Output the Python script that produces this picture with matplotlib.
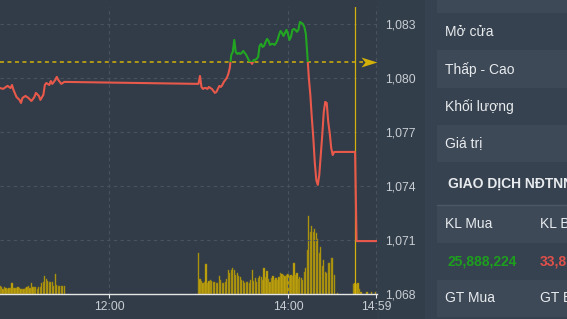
import matplotlib
matplotlib.use("Agg")
import matplotlib.pyplot as plt
import matplotlib.transforms as mtransforms
from matplotlib.patches import Rectangle
from matplotlib.path import Path
import numpy as np

FONT = ["Liberation Sans", "DejaVu Sans"]
plt.rcParams["font.family"] = FONT

# ---------------- data ----------------
price_times = [
    "10:47", "10:49", "10:52", "10:54", "10:55", "10:56", "10:58", "11:00", "11:01", "11:02",
    "11:04", "11:06", "11:08", "11:10", "11:11", "11:13", "11:14", "11:16", "11:17", "11:18",
    "11:20", "11:21", "11:22", "11:24", "11:25", "11:26", "11:28", "11:29", "11:30",
    "13:00", "13:01", "13:02", "13:03", "13:04", "13:05", "13:06", "13:07", "13:08", "13:09",
    "13:10", "13:11", "13:12", "13:13", "13:14", "13:15", "13:16", "13:17", "13:18", "13:19",
    "13:20", "13:21", "13:22", "13:23", "13:24", "13:25", "13:26", "13:27", "13:28", "13:29",
    "13:30", "13:31", "13:32", "13:33", "13:34", "13:35", "13:36", "13:37", "13:38", "13:39",
    "13:40", "13:41", "13:42", "13:43", "13:44", "13:45", "13:46", "13:47", "13:48", "13:49",
    "13:50", "13:51", "13:52", "13:53", "13:54", "13:55", "13:56", "13:57", "13:58", "13:59",
    "14:00", "14:01", "14:02", "14:03", "14:04", "14:05", "14:06", "14:07", "14:08", "14:09",
    "14:10", "14:11", "14:12", "14:13", "14:14", "14:15", "14:16", "14:17", "14:18", "14:19",
    "14:20", "14:21", "14:22", "14:23", "14:24", "14:25", "14:26", "14:27", "14:28", "14:29",
    "14:30", "14:31", "14:45", "14:46", "14:59",
]
price_values = [
    1079.44, 1079.39, 1079.56, 1079.44, 1079.61, 1079.33, 1078.94, 1078.78, 1078.61, 1078.89,
    1079.00, 1078.89, 1078.72, 1078.94, 1079.17, 1079.00, 1078.78, 1079.06, 1079.61, 1079.72,
    1079.61, 1079.83, 1079.67, 1079.89, 1080.06, 1079.89, 1079.67, 1079.72, 1079.78,
    1079.67, 1080.11, 1079.50, 1079.39, 1079.44, 1079.44, 1079.39, 1079.50, 1079.44, 1079.39,
    1079.28, 1079.17, 1079.22, 1079.39, 1079.56, 1079.50, 1079.61, 1079.78, 1079.89, 1080.00,
    1080.22, 1080.56, 1081.28, 1081.44, 1082.11, 1081.44, 1081.33, 1081.39, 1081.33, 1081.39,
    1081.50, 1081.39, 1081.28, 1081.11, 1080.94, 1080.89, 1080.78, 1081.00, 1081.00, 1081.06,
    1081.17, 1081.78, 1081.89, 1081.72, 1081.78, 1082.00, 1082.17, 1082.06, 1081.83, 1081.89,
    1081.89, 1081.83, 1081.94, 1082.11, 1082.39, 1082.61, 1082.50, 1082.33, 1082.50, 1082.67,
    1082.44, 1082.11, 1082.28, 1082.67, 1082.72, 1082.67, 1082.56, 1082.67, 1083.11, 1083.06,
    1083.00, 1082.83, 1082.44, 1081.28, 1080.00, 1079.06, 1077.78, 1076.67, 1075.28, 1074.33,
    1074.06, 1074.61, 1075.72, 1076.83, 1078.11, 1078.67, 1078.61, 1077.56, 1076.94, 1076.11,
    1075.72, 1075.89, 1075.89, 1070.94, 1070.94,
]
reference_price = 1080.89

vol_morning_start = "10:47"
vol_morning = [
    80, 67, 47, 67, 57, 47, 57, 57, 107, 57, 57, 57, 67, 57, 47, 47, 47, 60, 67, 80,
    57, 107, 67, 73, 67, 47, 67, 67, 107, 123, 180, 147, 133, 123, 123, 123, 80, 200, 90, 80,
    80, 80, 80, 80,
]
vol_afternoon_start = "13:00"
vol_afternoon = [
    413, 147, 133, 113, 123, 300, 107, 133, 140, 133,
    123, 123, 113, 107, 180, 140, 107, 113, 123, 147,
    240, 213, 240, 260, 240, 190, 213, 180, 167, 140,
    133, 113, 123, 123, 113, 140, 240, 133, 157, 123,
    157, 180, 167, 140, 257, 173, 233, 147, 123, 157,
    180, 140, 157, 140, 167, 213, 200, 190, 180, 190,
    200, 180, 190, 180, 307, 190, 207, 147, 173, 157,
    140, 223, 257, 440, 780, 623, 680, 623, 647, 607,
    547, 407, 473, 280, 340, 223, 213, 307, 313, 357,
    357, 190,
]
vol_late_times = ["14:33", "14:44", "14:45", "14:46", "14:47", "14:48", "14:49", "14:53", "14:56", "14:59"]
vol_late = [13, 100, 110, 100, 110, 50, 20, 20, 20, 20]

y_ticks = [1068, 1071, 1074, 1077, 1080, 1083]
x_tick_labels = ["12:00", "14:00", "14:59"]
atc_time = "14:45"

panel_rows = ["Mở cửa", "Thấp - Cao", "Khối lượng", "Giá trị"]
foreign_title = "GIAO DỊCH NĐTNN"
foreign_head = ["KL Mua", "KL Bán"]
foreign_vals = ["25,888,224", "33,8"]
foreign_head2 = ["GT Mua", "GT Bán"]


def tmin(s):
    h, m = s.split(":")
    return int(h) * 60 + int(m)


# ---------------- colours ----------------
C_CHART = "#313c48"
C_LABCOL = "#333e4b"
C_PANEL = "#36424f"
C_ROW = "#3d4957"
C_GRID = "#48535f"
C_TEXT = "#c9ced4"
C_WHITE = "#e8ebee"
C_RED = "#e8594b"
C_GREEN = "#22a622"
C_YEL = "#d4b10a"

W, H = 567, 319
fig = plt.figure(figsize=(W / 100, H / 100), dpi=100)

# background / side panel in pixel coordinates
bg = fig.add_axes([0, 0, 1, 1], zorder=0)
bg.set_xlim(0, W)
bg.set_ylim(H, 0)
bg.axis("off")
bg.add_patch(Rectangle((0, 0), 377, H, color=C_CHART, lw=0))
bg.add_patch(Rectangle((377, 0), 48, H, color=C_LABCOL, lw=0))
bg.add_patch(Rectangle((425, 0), W - 425, H, color=C_PANEL, lw=0))
for y0, y1 in [(0, 13), (50, 88), (125, 162), (205, 243), (280, 317)]:
    bg.add_patch(Rectangle((437, y0), W - 437, y1 - y0, color=C_ROW, lw=0))
bg.plot([437, W], [205, 205], color="#4c5866", lw=1)

for lab, yb in zip(panel_rows, [36.5, 74, 111, 147.5]):
    bg.text(445, yb, lab, color=C_WHITE, fontsize=10, va="baseline", ha="left")
bg.text(448, 187.5, foreign_title, color=C_WHITE, fontsize=10, fontweight="bold",
        va="baseline", ha="left")
bg.text(445, 228.5, foreign_head[0], color=C_WHITE, fontsize=10, va="baseline")
bg.text(540, 228.5, foreign_head[1], color=C_WHITE, fontsize=10, va="baseline")
bg.text(447, 265, foreign_vals[0], color="#1e9e1e", fontsize=10, fontweight="bold",
        va="baseline")
bg.text(540, 265, foreign_vals[1], color="#e0504a", fontsize=10, fontweight="bold",
        va="baseline")
bg.text(445, 301.5, foreign_head2[0], color=C_WHITE, fontsize=10, va="baseline")
bg.text(540, 301.5, foreign_head2[1], color=C_WHITE, fontsize=10, va="baseline")

# main axes
ax = fig.add_axes([0, 25 / H, 377 / W, 287 / H])
ax2 = ax.twinx()
ax2.set_zorder(1)
ax.set_zorder(2)
ax.patch.set_visible(False)
ax2.patch.set_visible(False)

xlo, xhi = tmin("10:47") - 0.07, tmin("14:59") + 0.7
ylo, yhi = 1068, 1083.94
ax.set_xlim(xlo, xhi)
ax.set_ylim(ylo, yhi)

# volume bars
vx = [tmin(vol_morning_start) + i for i in range(len(vol_morning))]
vx += [tmin(vol_afternoon_start) + i for i in range(len(vol_afternoon))]
vx += [tmin(t) for t in vol_late_times]
vv = vol_morning + vol_afternoon + vol_late
ax2.bar(vx, vv, width=0.8, color="#c9a90e", edgecolor="#8f7c12", linewidth=0.35)
ax2.set_ylim(0, 2870)
ax2.set_yticks([])
for s in ax2.spines.values():
    s.set_visible(False)

# grid
ax.set_yticks(y_ticks)
ax.set_yticklabels([f"{v:,}" for v in y_ticks])
ax.set_xticks([tmin(t) for t in x_tick_labels])
ax.set_xticklabels(x_tick_labels)
ax.grid(True, color=C_GRID, linestyle=(0, (3, 3)), linewidth=0.8)
ax.yaxis.tick_right()
ax.tick_params(axis="y", length=0, pad=5.8, labelcolor=C_TEXT, labelsize=8.7)
ax.tick_params(axis="x", length=2.9, width=0.8, color="#e6e6e6", pad=2.2,
               labelcolor=C_TEXT, labelsize=8.7)
for k in ["top", "left", "right"]:
    ax.spines[k].set_visible(False)
ax.spines["bottom"].set_color("#e6e6e6")
ax.spines["bottom"].set_linewidth(1.0)

# reference line with arrow
blend = mtransforms.blended_transform_factory(ax.transAxes, ax.transData)
ax.plot([0, 0.962], [reference_price, reference_price], transform=blend,
        color=C_YEL, lw=1.1, linestyle=(0, (2.6, 2.3)), zorder=2)
arrow = Path([(-1, 0.62), (1, 0), (-1, -0.62), (-0.5, 0), (-1, 0.62)],
             [Path.MOVETO, Path.LINETO, Path.LINETO, Path.LINETO, Path.CLOSEPOLY])
ax.plot([0.979], [reference_price], transform=blend, marker=arrow, markersize=11.5,
        color=C_YEL, markeredgewidth=0, clip_on=False, zorder=2)

# ATC vertical line
ax.axvline(tmin(atc_time), color=C_YEL, lw=0.9, zorder=2.5)

# price line: red below reference, green above
px = [tmin(t) for t in price_times]
l_red, = ax.plot(px, price_values, color=C_RED, lw=1.5, zorder=3,
                 solid_joinstyle="round")
l_grn, = ax.plot(px, price_values, color=C_GREEN, lw=1.5, zorder=3,
                 solid_joinstyle="round")
r_red = Rectangle((xlo - 10, ylo - 10), xhi - xlo + 20, reference_price - ylo + 10,
                  transform=ax.transData)
r_grn = Rectangle((xlo - 10, reference_price), xhi - xlo + 20, 20,
                  transform=ax.transData)
l_red.set_clip_path(r_red)
l_grn.set_clip_path(r_grn)

fig.savefig("out.png", dpi=100, facecolor=C_CHART)
